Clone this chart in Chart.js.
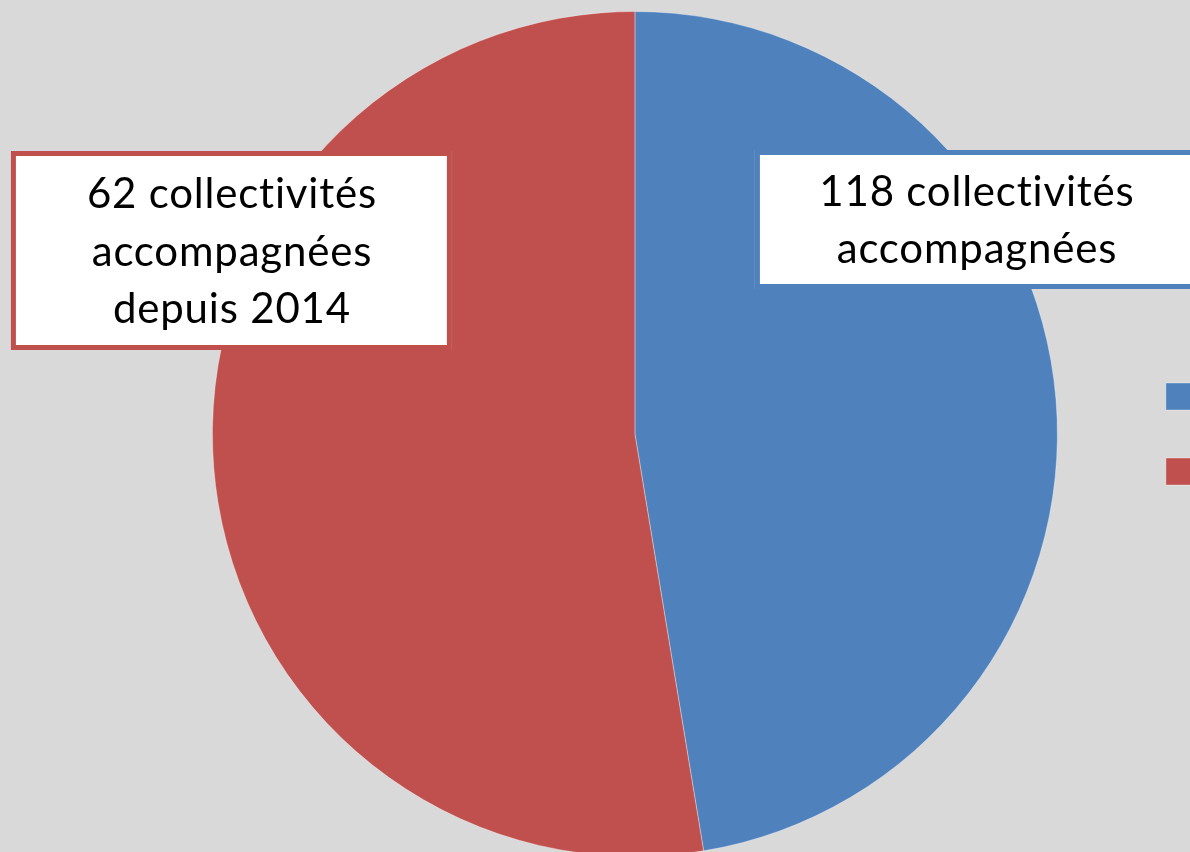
<!DOCTYPE html>
<html>
<head>
<meta charset="utf-8">
<script src="https://cdn.jsdelivr.net/npm/chart.js@4.4.0/dist/chart.umd.min.js"></script>
<style>
    html, body { margin: 0; padding: 0; background: #d9d9d9; overflow: hidden; width: 1190px; height: 852px; }
    #pie { position: absolute; left: 0; top: 0; }
</style>
</head>
<body>
<canvas id="pie" width="1600" height="868"></canvas>
<script>
// Chart data
const categories = ['Accompagnées', 'Depuis 2014'];
const shares = [47.4, 52.6];
const sliceColors = ['#4f81bd', '#c0504d'];
const blueCallout = ['118 collectivités', 'accompagnées'];
const redCallout = ['62 collectivités', 'accompagnées', 'depuis 2014'];

// Page offset of the canvas (set after first layout pass)
let offsetX = 0;

// Draw the two white callout boxes over the pie.
const calloutPlugin = {
    id: 'callouts',
    afterDraw: function (chart) {
        const ctx = chart.ctx;
        const ox = offsetX;
        function box(left, top, right, bottom, color, lines, cx, baselines) {
            ctx.save();
            ctx.fillStyle = '#ffffff';
            ctx.fillRect(left - ox, top, right - left, bottom - top);
            ctx.lineWidth = 5;
            ctx.strokeStyle = color;
            ctx.strokeRect(left - ox + 2.5, top + 2.5, right - left - 5, bottom - top - 5);
            ctx.fillStyle = '#000000';
            ctx.font = '42px Lato';
            ctx.letterSpacing = '0.8px';
            ctx.textAlign = 'center';
            ctx.textBaseline = 'alphabetic';
            lines.forEach(function (line, i) {
                ctx.fillText(line, cx - ox, baselines[i]);
            });
            ctx.restore();
        }
        box(11, 151, 452, 350, sliceColors[1], redCallout, 232, [208, 266, 323]);
        box(755, 150, 1199, 289, sliceColors[0], blueCallout, 977, [206, 263]);
    }
};

const canvas = document.getElementById('pie');
const chart = new Chart(canvas, {
    type: 'pie',
    data: {
        labels: categories,
        datasets: [{
            data: shares,
            backgroundColor: sliceColors,
            borderColor: 'rgba(255, 255, 255, 0.35)',
            borderWidth: 1
        }]
    },
    options: {
        responsive: false,
        animation: false,
        devicePixelRatio: 1,
        layout: { padding: { top: 11, bottom: 11, left: 0, right: 0 } },
        plugins: {
            tooltip: { enabled: false },
            legend: {
                position: 'right',
                align: 'center',
                labels: {
                    boxWidth: 27,
                    boxHeight: 27,
                    padding: 48,
                    color: '#000000',
                    font: { size: 27, family: 'Lato' }
                }
            }
        }
    },
    plugins: [calloutPlugin]
});

// Second pass: put the legend squares at x=1166 and the pie centre at x=635.
const hb = chart.legend.legendHitBoxes[0];
offsetX = 1166 - hb.left;
canvas.style.left = offsetX + 'px';
chart.options.layout.padding.left = 2 * (635 - offsetX) - chart.legend.left;
chart.update();
</script>
</body>
</html>
